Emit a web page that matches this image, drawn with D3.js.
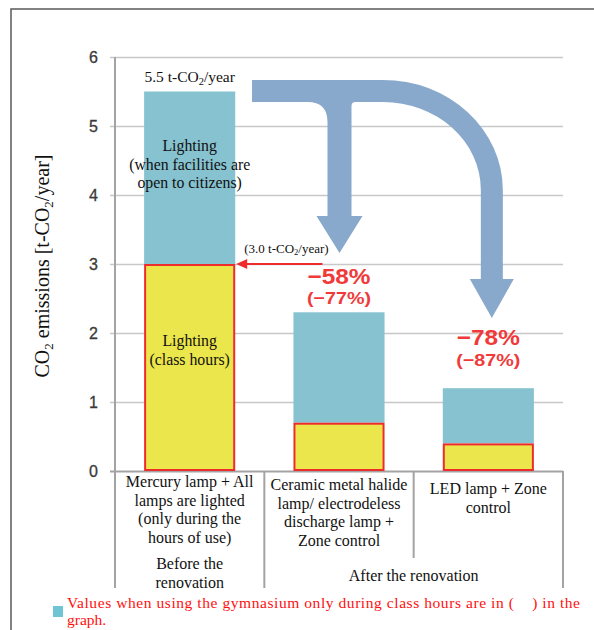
<!DOCTYPE html>
<html>
<head>
<meta charset="utf-8">
<script src="https://cdn.jsdelivr.net/npm/d3@7"></script>
<style>
  html, body { margin: 0; padding: 0; background: #fff; }
  svg { display: block; }
  text { white-space: pre; }
</style>
</head>
<body>
<svg id="chart" width="594" height="630"></svg>
<script>
// ---- data ----
const categories = ["mercury", "ceramic", "led"];
const categoryLines = [
  ["Mercury lamp + All", "lamps are lighted", "(only during the", "hours of use)"],
  ["Ceramic metal halide", "lamp/ electrodeless", "discharge lamp +", "Zone control"],
  ["LED lamp + Zone", "control"]
];
const classHours = [3.0, 0.7, 0.4];      // lighting during class hours
const citizenHours = [2.5, 1.6, 0.8];    // extra lighting when open to citizens
const yTicks = [0, 1, 2, 3, 4, 5, 6];
const groupLabels = [["Before the", "renovation"], ["After the renovation"]];
const noteLines = ["Values when using the gymnasium only during class hours are in (    ) in the", "graph."];

const totals = classHours.map((v, i) => v + citizenHours[i]);
const pct = (v, base) => "\u2212" + Math.round((base - v) / base * 100) + "%";

// ---- layout ----
const svg = d3.select("#chart");
const pLeft = 115, pRight = 563, pTop = 57, pBottom = 471;

const colTeal = "#86C2CF", colYellow = "#EBE64B", colRed = "#EE2C2C",
      colPct = "#F03A3A", colArrow = "#88A9CB", colGrid = "#C8C8C8", colAxis = "#A3A3A3";

const x = d3.scaleBand().domain(categories).range([pLeft, pRight])
  .paddingInner(0.39).paddingOuter(0.195);
const y = d3.scaleLinear().domain([0, 6]).range([pBottom, pTop]);
const bw = x.bandwidth();
const step = x.step();

// outer frame
svg.append("rect").attr("x", 11).attr("y", 9).attr("width", 640).attr("height", 660)
  .attr("fill", "none").attr("stroke", "#5a5a5a").attr("stroke-width", 1.5);

// y axis with gridlines
const yAxis = d3.axisLeft(y).tickValues(yTicks).tickSize(-(pRight - 110)).tickPadding(12).tickFormat(d3.format("d"));
const gy = svg.append("g").attr("transform", "translate(110,0)").call(yAxis);
gy.select(".domain").remove();
gy.selectAll(".tick line").attr("stroke", d => d === 0 ? colAxis : colGrid).attr("stroke-width", d => d === 0 ? 2 : 1.5);
gy.selectAll(".tick text").attr("font-family", "'Liberation Sans', Arial, sans-serif")
  .attr("font-size", 16).attr("fill", "#3a3a3a").attr("stroke", "#3a3a3a").attr("stroke-width", 0.3);

// vertical axis line
svg.append("line").attr("x1", pLeft).attr("x2", pLeft).attr("y1", y(6)).attr("y2", pBottom + 117)
  .attr("stroke", colAxis).attr("stroke-width", 2);

// category table lines below the axis
const seps = [x(categories[1]) - (step - bw) / 2, x(categories[2]) - (step - bw) / 2, pRight];
const sepEnds = [pBottom + 117, pBottom + 87, pBottom + 117];
seps.forEach((sx, i) => {
  svg.append("line").attr("x1", sx).attr("x2", sx).attr("y1", pBottom).attr("y2", sepEnds[i])
    .attr("stroke", colAxis).attr("stroke-width", 2);
});

// y axis title
const yt = svg.append("text")
  .attr("transform", "translate(49,266) rotate(-90)")
  .attr("text-anchor", "middle")
  .attr("font-family", "'Liberation Serif', 'Times New Roman', serif")
  .attr("font-size", 20).attr("fill", "#111");
yt.append("tspan").text("CO");
yt.append("tspan").attr("font-size", 13).attr("dy", 4).text("2");
yt.append("tspan").attr("dy", -4).text(" emissions [t-CO");
yt.append("tspan").attr("font-size", 13).attr("dy", 4).text("2");
yt.append("tspan").attr("dy", -4).text("/year]");

// stacked bars
const bars = svg.append("g");
categories.forEach((c, i) => {
  bars.append("rect").attr("x", x(c)).attr("width", bw)
    .attr("y", y(totals[i])).attr("height", y(classHours[i]) - y(totals[i]))
    .attr("fill", colTeal);
  bars.append("rect").attr("x", x(c) + 1).attr("width", bw - 2)
    .attr("y", y(classHours[i]) + 1).attr("height", y(0) - y(classHours[i]) - 2)
    .attr("fill", colYellow).attr("stroke", colRed).attr("stroke-width", 2);
});

const serif = "'Liberation Serif', 'Times New Roman', serif";
const cx = i => x(categories[i]) + bw / 2;

// centred multi-line text
function lines(g, xc, y0, lh, arr, size, fill) {
  arr.forEach((t, k) => {
    g.append("text").attr("x", xc).attr("y", y0 + k * lh).attr("text-anchor", "middle")
      .attr("font-family", serif).attr("font-size", size).attr("fill", fill || "#111").text(t);
  });
}
const ann = svg.append("g");
lines(ann, cx(0), 151, 18.5, ["Lighting", "(when facilities are", "open to citizens)"], 15.8);
lines(ann, cx(0), 346, 19, ["Lighting", "(class hours)"], 15.8);

// total label above first bar
const tl = ann.append("text").attr("x", cx(0)).attr("y", y(totals[0]) - 10)
  .attr("text-anchor", "middle").attr("font-family", serif).attr("font-size", 15.5).attr("fill", "#111");
tl.append("tspan").text(totals[0].toFixed(1) + " t-CO");
tl.append("tspan").attr("font-size", 10.5).attr("dy", 3).text("2");
tl.append("tspan").attr("dy", -3).text("/year");

// class-hours reference arrow
const ay = y(classHours[0]);
const ax0 = x(categories[0]) + bw + 1, ax1 = x(categories[1]) + 29;
ann.append("line").attr("x1", ax1).attr("x2", ax0 + 9).attr("y1", ay).attr("y2", ay)
  .attr("stroke", colRed).attr("stroke-width", 2);
ann.append("path").attr("d", `M${ax0},${ay}L${ax0 + 11},${ay - 5}L${ax0 + 11},${ay + 5}Z`).attr("fill", colRed);
const cl = ann.append("text").attr("x", ax0 + 8).attr("y", ay - 11)
  .attr("font-family", serif).attr("font-size", 13).attr("fill", "#111");
cl.append("tspan").text("(" + classHours[0].toFixed(1) + " t-CO");
cl.append("tspan").attr("font-size", 8.5).attr("dy", 2).text("2");
cl.append("tspan").attr("dy", -2).text("/year)");

// big reduction arrows
const T = 80, B = 102, L0 = 252;
const s1 = cx(1) + 0.5, s2 = cx(2) + 3.5;          // shaft centres
const w1 = 12, w2 = 11;
const ecx = 383, ecy = 190;
const path = [
  `M${L0},${T}`, `L${ecx},${T}`,
  `A${s2 + w2 - ecx},${ecy - T} 0 0 1 ${s2 + w2},${ecy}`,
  `L${s2 + w2},279`, `L${s2 + 22},279`, `L${s2},318`, `L${s2 - 22},279`, `L${s2 - w2},279`,
  `L${s2 - w2},${ecy}`,
  `A${s2 - w2 - ecx},${ecy - B} 0 0 0 ${ecx},${B}`,
  `L${s1 + w1 + 4},${B}`, `Q${s1 + w1},${B} ${s1 + w1},${B + 4}`,
  `L${s1 + w1},216`, `L${s1 + 23},216`, `L${s1},253`, `L${s1 - 23},216`, `L${s1 - w1},216`,
  `L${s1 - w1},${B + 20}`, `Q${s1 - w1},${B} ${s1 - w1 - 20},${B}`,
  `L${L0},${B}`, "Z"
].join("");
svg.append("path").attr("d", path).attr("fill", colArrow);

// reduction percentages
const sans = "'Liberation Sans', Arial, sans-serif";
const pctPos = [null, [284, 304], [345, 366]];
[1, 2].forEach(i => {
  ann.append("text").attr("x", cx(i)).attr("y", pctPos[i][0]).attr("text-anchor", "middle")
    .attr("font-family", sans).attr("font-weight", "bold").attr("font-size", 22)
    .attr("fill", colPct).attr("textLength", 63).attr("lengthAdjust", "spacingAndGlyphs")
    .text(pct(totals[i], totals[0]));
  ann.append("text").attr("x", cx(i)).attr("y", pctPos[i][1]).attr("text-anchor", "middle")
    .attr("font-family", sans).attr("font-weight", "bold").attr("font-size", 17)
    .attr("fill", colPct).attr("textLength", 64).attr("lengthAdjust", "spacingAndGlyphs")
    .text("(" + pct(classHours[i], classHours[0]) + ")");
});

// category labels
const firstBase = [487, 490, 494];
categoryLines.forEach((arr, i) => lines(ann, cx(i), firstBase[i], 18.7, arr, 16));
lines(ann, cx(0), 569, 19, groupLabels[0], 16);
lines(ann, (seps[0] + pRight) / 2, 581, 19, groupLabels[1], 16);

// note with legend swatch
svg.append("rect").attr("x", 53).attr("y", 606).attr("width", 10).attr("height", 11).attr("fill", "#6FC5D3");
svg.append("text").attr("x", 67).attr("y", 608).attr("font-family", serif).attr("font-size", 15.5)
  .attr("fill", "#FF1010").attr("textLength", 513).attr("lengthAdjust", "spacing").text(noteLines[0]);
svg.append("text").attr("x", 67).attr("y", 625).attr("font-family", serif).attr("font-size", 15.5)
  .attr("fill", "#FF1010").text(noteLines[1]);
</script>
</body>
</html>
